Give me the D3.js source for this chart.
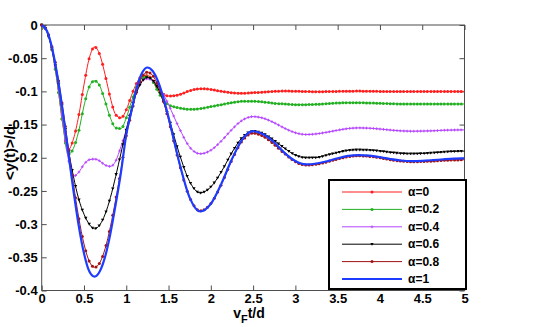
<!DOCTYPE html>
<meta charset="utf-8">
<html>
<head>
  <style>
    body { margin: 0; background: white; }
    .tick-label { font: bold 13px "Liberation Sans Narrow", "Liberation Sans", sans-serif; fill: #000; }
    .leg-text { font: bold 12px "Liberation Sans Narrow", "Liberation Sans", sans-serif; }
  </style>
</head>
<body>
<svg width="545" height="327"></svg>

<script src="https://d3js.org/d3.v7.min.js"></script>
<script>

// time axis samples (v_F t / d)
const tVals = [0, 0.0625, 0.125, 0.1875, 0.25, 0.3125, 0.375, 0.4375, 0.5, 0.5625,
  0.625, 0.6875, 0.75, 0.8125, 0.875, 0.9375, 1.0, 1.0625, 1.125, 1.1875,
  1.25, 1.3125, 1.375, 1.4375, 1.5, 1.625, 1.75, 1.875, 2.0, 2.125,
  2.25, 2.375, 2.5, 2.625, 2.75, 2.875, 3.0, 3.125, 3.25, 3.375,
  3.5, 3.625, 3.75, 3.875, 4.0, 4.125, 4.25, 4.375, 4.5, 4.625,
  4.75, 4.875, 5.0];

const alpha0 = [0, -0.01, -0.04, -0.09, -0.15, -0.188, -0.172, -0.137, -0.09, -0.05,
  -0.033, -0.045, -0.075, -0.11, -0.135, -0.14, -0.128, -0.106, -0.087, -0.077,
  -0.076, -0.083, -0.095, -0.104, -0.107, -0.105, -0.099, -0.096, -0.097, -0.1,
  -0.102, -0.103, -0.102, -0.101, -0.1, -0.0995, -0.0998, -0.1002, -0.1005, -0.1003,
  -0.1, -0.0997, -0.0996, -0.0998, -0.1, -0.1002, -0.1003, -0.1002, -0.1001, -0.1,
  -0.1, -0.1, -0.1];

const alpha02 = [0, -0.01, -0.04, -0.09, -0.15, -0.195, -0.186, -0.16, -0.122, -0.093,
  -0.084, -0.092, -0.115, -0.14, -0.155, -0.156, -0.14, -0.115, -0.093, -0.08,
  -0.078, -0.085, -0.1, -0.113, -0.12, -0.125, -0.127, -0.126, -0.123, -0.12,
  -0.117, -0.115, -0.115, -0.116, -0.118, -0.119, -0.12, -0.12, -0.1195, -0.1185,
  -0.1175, -0.117, -0.117, -0.1175, -0.118, -0.1185, -0.119, -0.119, -0.119, -0.119,
  -0.119, -0.119, -0.119];

const alpha04 = [0, -0.01, -0.038, -0.085, -0.145, -0.2, -0.228, -0.222, -0.21, -0.203,
  -0.202, -0.205, -0.211, -0.213, -0.205, -0.183, -0.158, -0.125, -0.098, -0.084,
  -0.081, -0.084, -0.092, -0.104, -0.12, -0.155, -0.184, -0.194, -0.1887, -0.1747,
  -0.1573, -0.1433, -0.138, -0.1406, -0.1473, -0.1557, -0.1624, -0.165, -0.164, -0.1615,
  -0.1585, -0.156, -0.155, -0.1555, -0.1567, -0.1583, -0.1595, -0.16, -0.1598, -0.1594,
  -0.1586, -0.1582, -0.158];

const alpha06 = [0, -0.01, -0.038, -0.08, -0.13, -0.185, -0.228, -0.262, -0.285, -0.3,
  -0.307, -0.301, -0.285, -0.26, -0.228, -0.193, -0.158, -0.126, -0.101, -0.085,
  -0.079, -0.0833, -0.0956, -0.1148, -0.139, -0.193, -0.236, -0.253, -0.244, -0.221,
  -0.192, -0.169, -0.16, -0.164, -0.174, -0.186, -0.196, -0.2, -0.1997, -0.1959,
  -0.1921, -0.1889, -0.188, -0.1884, -0.1899, -0.1919, -0.1934, -0.194, -0.1936, -0.1926,
  -0.1914, -0.1904, -0.19];

const alpha08 = [0, -0.009, -0.035, -0.075, -0.126, -0.1825, -0.239, -0.29, -0.33, -0.356,
  -0.365, -0.358, -0.337, -0.304, -0.263, -0.218, -0.167, -0.132, -0.099, -0.078,
  -0.071, -0.076, -0.091, -0.114, -0.143, -0.208, -0.26, -0.28, -0.269, -0.24,
  -0.203, -0.174, -0.163, -0.168, -0.18, -0.194, -0.206, -0.211, -0.2097, -0.2062,
  -0.2018, -0.1983, -0.197, -0.1979, -0.2001, -0.2029, -0.2051, -0.206, -0.2056, -0.205,
  -0.204, -0.2034, -0.203];

const alpha1 = [0, -0.009, -0.036, -0.078, -0.131, -0.19, -0.249, -0.302, -0.344, -0.371,
  -0.379, -0.371, -0.349, -0.314, -0.27, -0.222, -0.165, -0.129, -0.094, -0.072,
  -0.064, -0.0693, -0.0847, -0.109, -0.139, -0.206, -0.26, -0.281, -0.2695, -0.239,
  -0.202, -0.172, -0.16, -0.165, -0.177, -0.193, -0.205, -0.21, -0.2087, -0.2052,
  -0.2008, -0.1973, -0.196, -0.1969, -0.1991, -0.2019, -0.2041, -0.205, -0.2046, -0.2036,
  -0.2024, -0.2014, -0.201];

const seriesNames = ["α=0", "α=0.2", "α=0.4", "α=0.6", "α=0.8", "α=1"];
const seriesValues = [alpha0, alpha02, alpha04, alpha06, alpha08, alpha1];
const seriesColors = ["#ff1e1e", "#22b022", "#b545ff", "#000000", "#a31212", "#1e3cff"];
const seriesMarkers = ["dot", "dot", "plus", "tri", "dot", "none"];

const xTicks = [0, 0.5, 1, 1.5, 2, 2.5, 3, 3.5, 4, 4.5, 5];
const xTickLabels = ["0", "0.5", "1", "1.5", "2", "2.5", "3", "3.5", "4", "4.5", "5"];
const yTicks = [0, -0.05, -0.1, -0.15, -0.2, -0.25, -0.3, -0.35, -0.4];
const yTickLabels = ["0", "-0.05", "-0.1", "-0.15", "-0.2", "-0.25", "-0.3", "-0.35", "-0.4"];

// layout
const plotLeft = 41.7, plotRight = 464.5, plotTop = 25, plotBottom = 290.5;

const svg = d3.select("svg");

const x = d3.scaleLinear().domain([0, 5]).range([plotLeft, plotRight]);
const y = d3.scaleLinear().domain([-0.4, 0]).range([plotBottom, plotTop]);

// axes box, ticks inward
const axisColor = "#4d4d4d";
svg.append("rect")
  .attr("x", plotLeft).attr("y", plotTop)
  .attr("width", plotRight - plotLeft).attr("height", plotBottom - plotTop)
  .attr("fill", "white").attr("stroke", axisColor).attr("stroke-width", 1);

const axG = svg.append("g");
function tickAxis(axis, tr, labels) {
  const g = axG.append("g").attr("transform", tr)
    .call(axis.tickSize(-5).tickPadding(6).tickFormat((d, i) => labels ? labels[i] : ""));
  g.select(".domain").remove();
  g.selectAll(".tick line").attr("stroke", axisColor);
  g.selectAll(".tick text").attr("class", "tick-label").attr("font-size", null).attr("font-family", null);
  return g;
}
const gx = tickAxis(d3.axisBottom(x).tickValues(xTicks), `translate(0,${plotBottom})`, xTickLabels);
gx.selectAll(".tick text").attr("dy", "0.71em").attr("y", 3.5);
tickAxis(d3.axisTop(x).tickValues(xTicks), `translate(0,${plotTop})`, null);
const gy = tickAxis(d3.axisLeft(y).tickValues(yTicks), `translate(${plotLeft},0)`, yTickLabels);
gy.selectAll(".tick text").attr("x", -4);
tickAxis(d3.axisRight(y).tickValues(yTicks), `translate(${plotRight},0)`, null);

// curves
const line = d3.line()
  .x((d, i) => x(tVals[i]))
  .y(d => y(d))
  .curve(d3.curveMonotoneX);

const plot = svg.append("g");

function drawMarker(g, kind, color, px, py) {
  if (kind === "dot") {
    g.append("circle").attr("cx", px).attr("cy", py).attr("r", 1.5).attr("fill", color);
  } else if (kind === "plus") {
    g.append("path").attr("d", `M${px - 1.4},${py}h2.8M${px},${py - 1.4}v2.8`)
      .attr("stroke", color).attr("stroke-width", 0.9);
  } else if (kind === "tri") {
    g.append("path").attr("d", `M${px - 1.7},${py - 1.2}h3.4l-1.7,2.8z`).attr("fill", color);
  }
}

// markers spaced evenly in time along the drawn curve
function markerPoints(node, stepPx) {
  const L = node.getTotalLength();
  const pts = [];
  let nextX = x(0);
  for (let l = 0; l <= L; l += 0.3) {
    const p = node.getPointAtLength(l);
    if (p.x >= nextX - 0.01) { pts.push(p); nextX += stepPx; }
  }
  return pts;
}

seriesValues.forEach((vals, k) => {
  const color = seriesColors[k];
  const path = plot.append("path")
    .datum(vals)
    .attr("d", line)
    .attr("fill", "none")
    .attr("stroke", color)
    .attr("stroke-width", seriesMarkers[k] === "none" ? 2.2 : 1);
  if (seriesMarkers[k] !== "none") {
    const mg = plot.append("g");
    markerPoints(path.node(), x(0.04) - x(0)).forEach(p => drawMarker(mg, seriesMarkers[k], color, p.x, p.y));
  }
});

// legend
const legX = 329, legY = 180, legW = 137, legH = 109;
const leg = svg.append("g");
leg.append("rect")
  .attr("x", legX).attr("y", legY).attr("width", legW).attr("height", legH)
  .attr("fill", "white").attr("stroke", "#000").attr("stroke-width", 2);
seriesNames.forEach((name, k) => {
  const ly = legY + 12 + k * 17.4;
  leg.append("line")
    .attr("x1", legX + 13).attr("x2", legX + 73)
    .attr("y1", ly).attr("y2", ly)
    .attr("stroke", seriesColors[k])
    .attr("stroke-width", seriesMarkers[k] === "none" ? 2.2 : 1);
  drawMarker(leg, seriesMarkers[k], seriesColors[k], legX + 43, ly);
  leg.append("text").attr("class", "leg-text")
    .attr("x", legX + 79).attr("y", ly + 4)
    .text(name);
});

// axis titles
const xt = svg.append("text")
  .attr("x", 249).attr("y", 318)
  .attr("text-anchor", "middle")
  .style("font", "bold 14px 'Liberation Sans Narrow', 'Liberation Sans', sans-serif");
xt.append("tspan").text("v");
xt.append("tspan").attr("dy", 5).style("font-size", "11px").text("F");
xt.append("tspan").attr("dy", -5).text("t/d");

svg.append("text")
  .attr("transform", `translate(15,153) rotate(-90)`)
  .attr("text-anchor", "middle")
  .style("font", "bold 15px 'Liberation Sans Narrow', 'Liberation Sans', sans-serif")
  .text("<y(t)>/d");

</script>
</body>
</html>
